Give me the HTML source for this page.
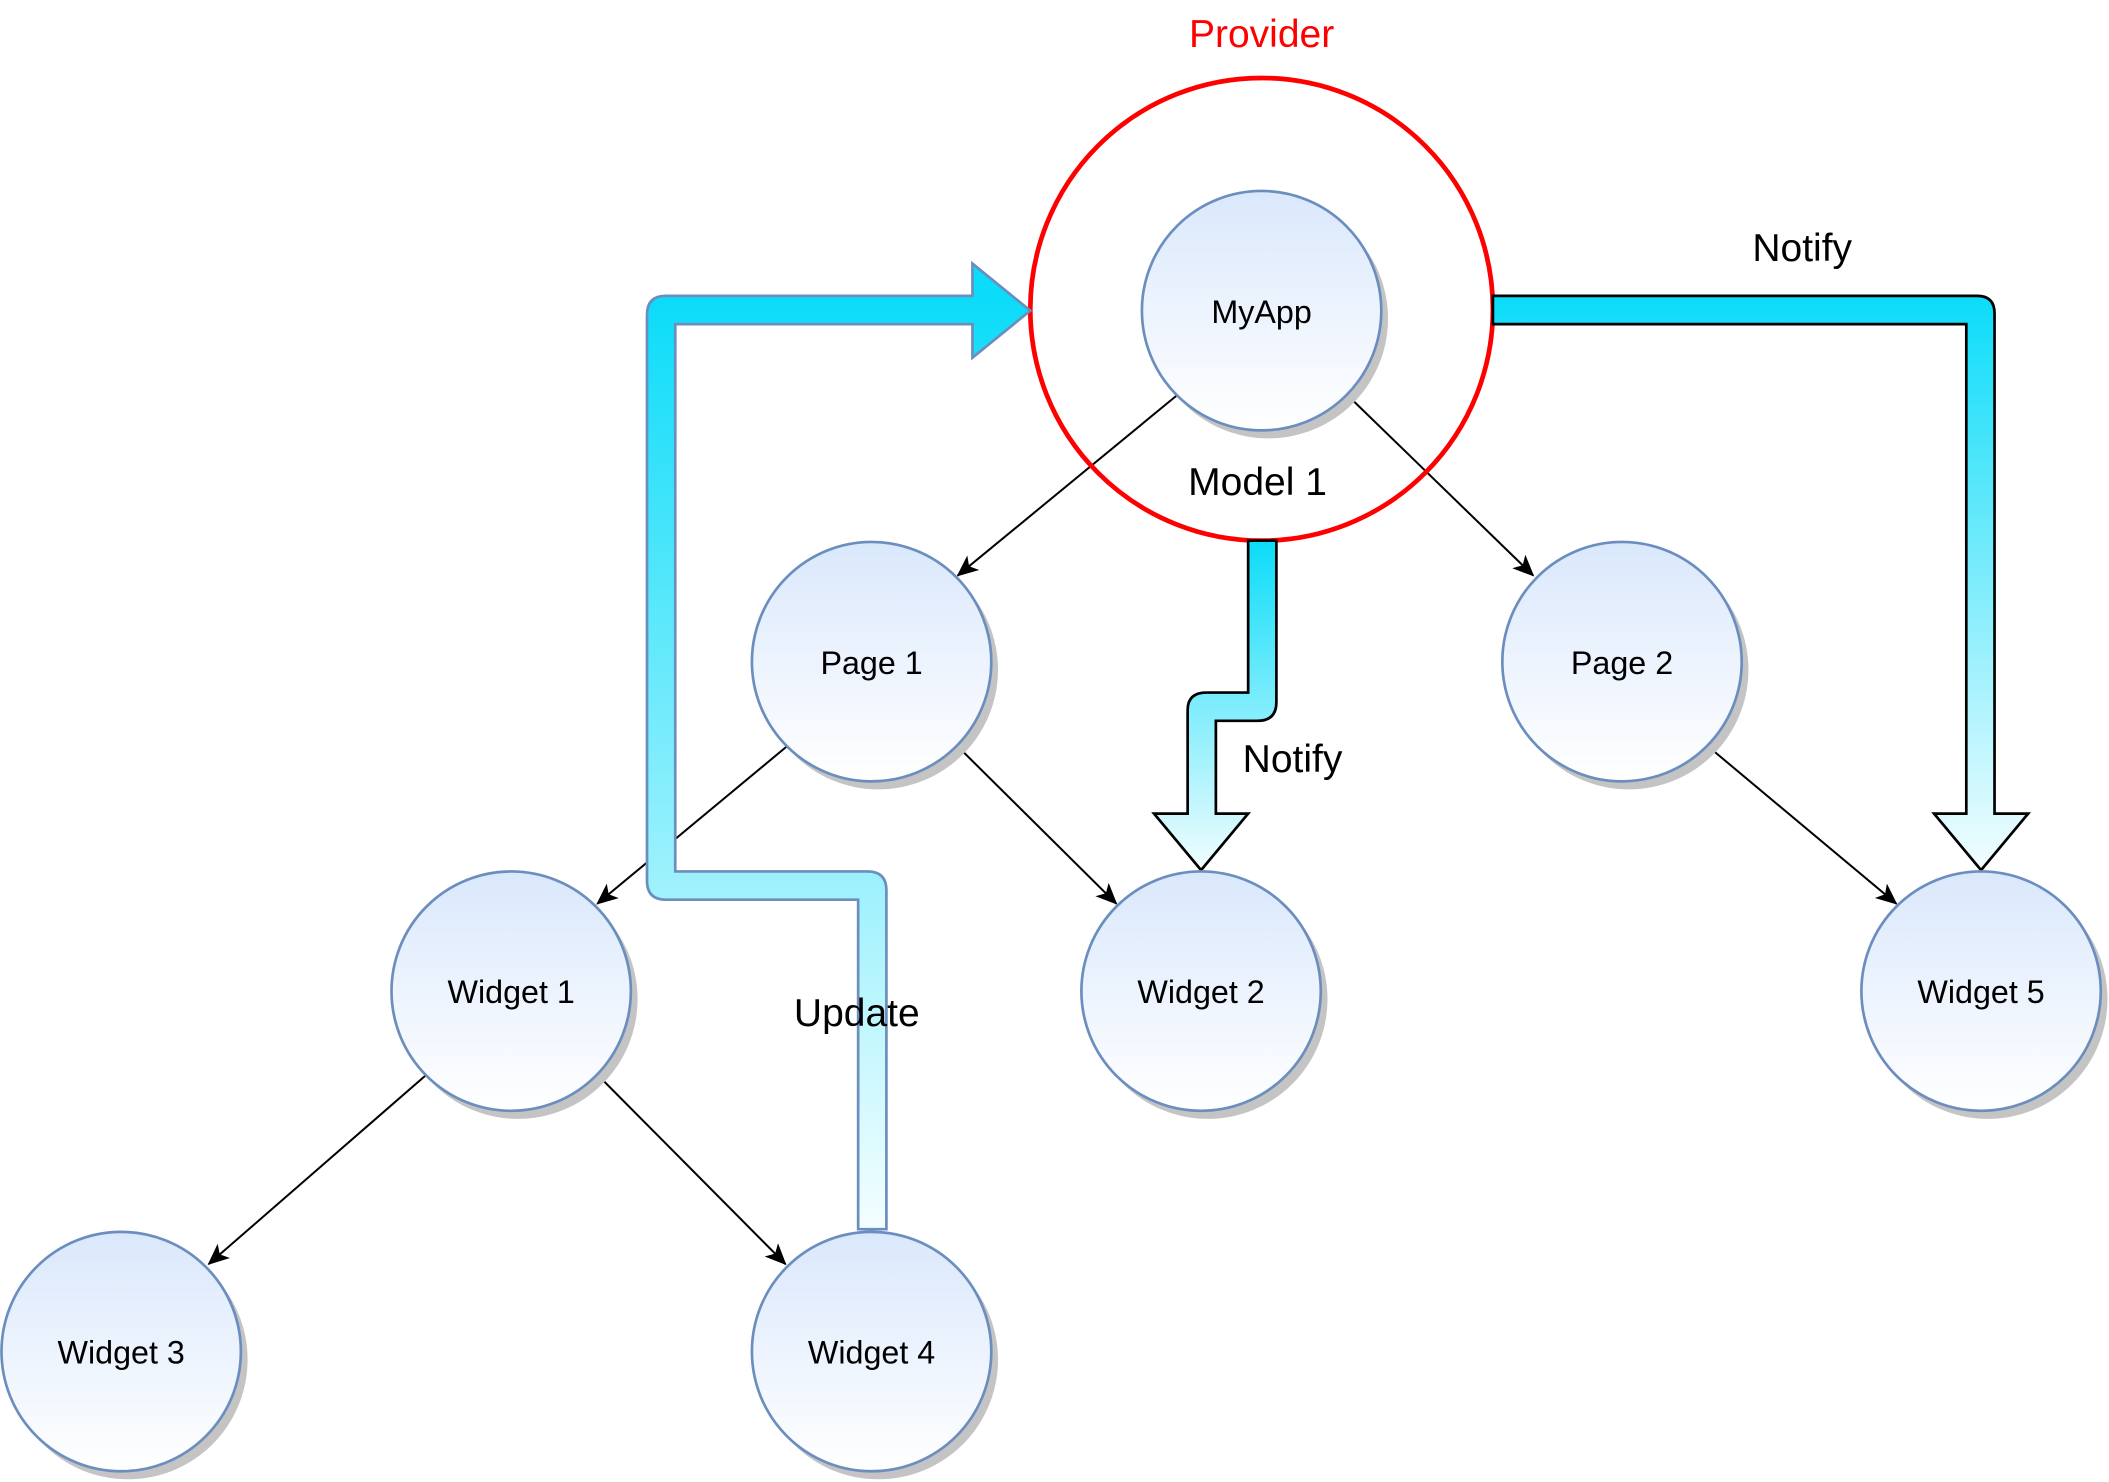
<!DOCTYPE html>
<html><head><meta charset="utf-8"><style>html,body{margin:0;padding:0;background:#fff}svg{display:block}</style></head>
<body>
<svg width="2109" height="1482" viewBox="0 0 1568 1102" xmlns="http://www.w3.org/2000/svg" font-family="'Liberation Sans', sans-serif">
<defs>
<linearGradient id="node" x1="0" y1="0" x2="0" y2="1"><stop offset="0" stop-color="#dae8fc"/><stop offset="1" stop-color="#ffffff"/></linearGradient>
<linearGradient id="gR" gradientUnits="userSpaceOnUse" x1="0" y1="220" x2="0" y2="647"><stop offset="0" stop-color="#0bdcf9"/><stop offset="1" stop-color="#f2fdff"/></linearGradient>
<linearGradient id="gM" gradientUnits="userSpaceOnUse" x1="0" y1="402" x2="0" y2="647"><stop offset="0" stop-color="#0bdcf9"/><stop offset="1" stop-color="#f2fdff"/></linearGradient>
<linearGradient id="gU" gradientUnits="userSpaceOnUse" x1="0" y1="914" x2="0" y2="220"><stop offset="0" stop-color="#f4feff"/><stop offset="1" stop-color="#0bdcf9"/></linearGradient>
<marker id="ah" markerWidth="16" markerHeight="16" refX="15" refY="8" orient="auto" markerUnits="userSpaceOnUse" viewBox="0 0 16 16"><path d="M0,1 L16,8 L0,15 L4,8 Z" fill="#000"/></marker>
</defs>
<g stroke="#000" stroke-width="1.5" marker-end="url(#ah)">
<line x1="875" y1="294" x2="712" y2="428"/>
<line x1="1002" y1="294" x2="1140" y2="428"/>
<line x1="585" y1="555" x2="444" y2="672"/>
<line x1="712" y1="555" x2="830" y2="672"/>
<line x1="1270" y1="555" x2="1410" y2="672"/>
<line x1="316" y1="800" x2="155" y2="940"/>
<line x1="445" y1="800" x2="584" y2="940"/>
</g>
<circle cx="938" cy="230" r="172" fill="none" stroke="#ff0000" stroke-width="3.5"/>
<path d="M1110,220 L1470,220 Q1483,220 1483,233 L1483,605 L1508,605 L1473,647 L1438,605 L1462,605 L1462,241 L1110,241 Z" fill="url(#gR)" stroke="#000" stroke-width="2"/>
<path d="M928,402 L949,402 L949,522 Q949,536 935,536 L904,536 L904,605 L928,605 L893,647 L858,605 L883,605 L883,528 Q883,515 897,515 L928,515 Z" fill="url(#gM)" stroke="#000" stroke-width="2"/>
<path d="M638,914 L659,914 L659,662 Q659,648 645,648 L502,648 L502,241 L723,241 L723,266 L766,231 L723,196 L723,220 L495,220 Q481,220 481,234 L481,655 Q481,669 495,669 L638,669 Z" fill="url(#gU)" stroke="#6c8ebf" stroke-width="2"/>
<g>
<g fill="#c4c4c4">
<circle cx="943" cy="237" r="89"/><circle cx="653" cy="498" r="89"/><circle cx="1211" cy="498" r="89"/>
<circle cx="385" cy="743" r="89"/><circle cx="898" cy="743" r="89"/><circle cx="1478" cy="743" r="89"/>
<circle cx="95" cy="1011" r="89"/><circle cx="653" cy="1011" r="89"/>
</g>
<g fill="url(#node)" stroke="#6c8ebf" stroke-width="2">
<circle cx="938" cy="231" r="89"/><circle cx="648" cy="492" r="89"/><circle cx="1206" cy="492" r="89"/>
<circle cx="380" cy="737" r="89"/><circle cx="893" cy="737" r="89"/><circle cx="1473" cy="737" r="89"/>
<circle cx="90" cy="1005" r="89"/><circle cx="648" cy="1005" r="89"/>
</g>
</g>
<g font-size="24" text-anchor="middle" fill="#000">
<text x="938" y="240">MyApp</text>
<text x="648" y="501">Page 1</text>
<text x="1206" y="501">Page 2</text>
<text x="380" y="746">Widget 1</text>
<text x="893" y="746">Widget 2</text>
<text x="1473" y="746">Widget 5</text>
<text x="90" y="1014">Widget 3</text>
<text x="648" y="1014">Widget 4</text>
</g>
<g font-size="29" text-anchor="middle">
<text x="938" y="35" fill="#ff0000">Provider</text>
<text x="935" y="368">Model 1</text>
<text x="1340" y="194">Notify</text>
<text x="961" y="574">Notify</text>
<text x="637" y="763">Update</text>
</g>
</svg>
</body></html>
